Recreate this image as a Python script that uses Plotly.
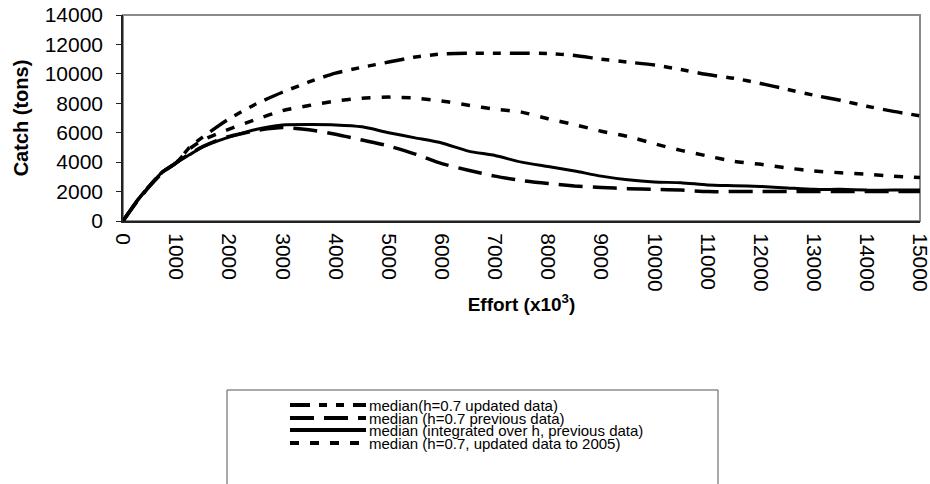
import plotly.graph_objects as go

effort = [0, 250, 500, 750, 1000, 1250, 1500, 1750, 2000, 2500, 3000, 3500, 4000, 4500,
          5000, 5500, 6000, 6500, 7000, 7500, 8000, 8500, 9000, 9500, 10000, 10500,
          11000, 11500, 12000, 12500, 13000, 13500, 14000, 14500, 15000]

s_updated = [0, 1300, 2400, 3350, 3950, 5000, 5700, 6350, 6950, 7950, 8750, 9450, 10050, 10450,
             10800, 11150, 11350, 11400, 11400, 11400, 11380, 11250, 11000, 10800, 10600, 10300,
             9950, 9700, 9350, 8950, 8550, 8200, 7800, 7450, 7150]

s_previous = [0, 1250, 2350, 3300, 3950, 4550, 5050, 5450, 5750, 6150, 6350, 6200, 5900, 5500,
              5100, 4550, 3900, 3450, 3050, 2750, 2550, 2380, 2280, 2200, 2150, 2100,
              2000, 2000, 2000, 2000, 2000, 2000, 2000, 2000, 2000]

s_integrated = [0, 1300, 2400, 3350, 3950, 4500, 5030, 5400, 5700, 6220, 6520, 6550, 6530, 6400,
                6000, 5650, 5300, 4750, 4450, 4000, 3700, 3400, 3050, 2800, 2650, 2600,
                2450, 2400, 2350, 2250, 2150, 2150, 2100, 2100, 2100]

s_to2005 = [0, 1300, 2400, 3350, 3950, 4900, 5500, 5900, 6250, 6900, 7500, 7850, 8150, 8350,
            8420, 8350, 8150, 7870, 7600, 7400, 6950, 6550, 6100, 5750, 5250, 4800,
            4420, 4050, 3850, 3600, 3400, 3280, 3180, 3050, 2950]

names = ["median(h=0.7 updated data)",
         "median (h=0.7 previous data)",
         "median (integrated over h, previous data)",
         "median (h=0.7, updated data to 2005)"]

y_ticks = [0, 2000, 4000, 6000, 8000, 10000, 12000, 14000]
x_ticks = list(range(0, 15001, 1000))

series = [s_updated, s_previous, s_integrated, s_to2005]
dashes = ["20px,9px,8px,9px,8px,9px", "24px,10px", "solid", "9px,11px"]
widths = [3.5, 3.5, 3, 3.5]

fig = go.Figure()
for ys, nm, ds, w in zip(series, names, dashes, widths):
    fig.add_trace(go.Scatter(x=effort, y=ys, name=nm, mode="lines",
                             line=dict(color="black", width=w, dash=ds, shape="spline", smoothing=0.6),
                             showlegend=False))

W, H = 930, 484
L, R, T, B = 123, 920, 15, 221
pw, ph = R - L, B - T

def px_x(p):
    return (p - L) / pw

def px_y(p):
    return (B - p) / ph

shapes = [
    dict(type="rect", xref="paper", yref="paper", x0=0, x1=1, y0=0, y1=1,
         line=dict(color="#8a8a8a", width=2), layer="below"),
    dict(type="rect", xref="paper", yref="paper", x0=px_x(227), x1=px_x(718),
         y0=px_y(520), y1=px_y(390), line=dict(color="#555555", width=1)),
]
annotations = []
rows = [405, 418, 430, 443]
for i, (nm, ds, w) in enumerate(zip(names, dashes, widths)):
    yy = px_y(rows[i])
    shapes.append(dict(type="line", xref="paper", yref="paper", x0=px_x(290), x1=px_x(366),
                       y0=yy, y1=yy, line=dict(color="black", width=4, dash=ds)))
    annotations.append(dict(text=nm, xref="paper", yref="paper", x=px_x(367), y=yy,
                            xanchor="left", yanchor="middle", showarrow=False,
                            font=dict(size=15, color="black", family="Liberation Sans, Arial")))

fig.update_layout(
    width=W, height=H,
    margin=dict(l=L, r=W - R, t=T, b=H - B, autoexpand=False),
    paper_bgcolor="white", plot_bgcolor="white",
    font=dict(family="Liberation Sans, Arial", color="black"),
    shapes=shapes, annotations=annotations,
    xaxis=dict(range=[0, 15000], tickvals=x_ticks, ticktext=[str(v) for v in x_ticks],
               tickangle=90, tickfont=dict(size=21), showgrid=False, zeroline=False,
               showline=True, linecolor="#222222", linewidth=2, ticks="",
               ticklabelstandoff=6, ticklabeloverflow="allow", automargin=False,
               title=dict(text="<b>Effort (x10<sup>3</sup>)</b>", font=dict(size=19), standoff=7)),
    yaxis=dict(range=[0, 14000], tickvals=y_ticks, ticktext=[str(v) for v in y_ticks],
               tickfont=dict(size=21), showgrid=False, zeroline=False,
               showline=True, linecolor="#222222", linewidth=1.5, ticks="outside",
               ticklen=5, tickcolor="#222222", ticklabelstandoff=9, automargin=False,
               title=dict(text="<b>Catch (tons)</b>", font=dict(size=20), standoff=11)),
)

fig.write_html("out.html")
